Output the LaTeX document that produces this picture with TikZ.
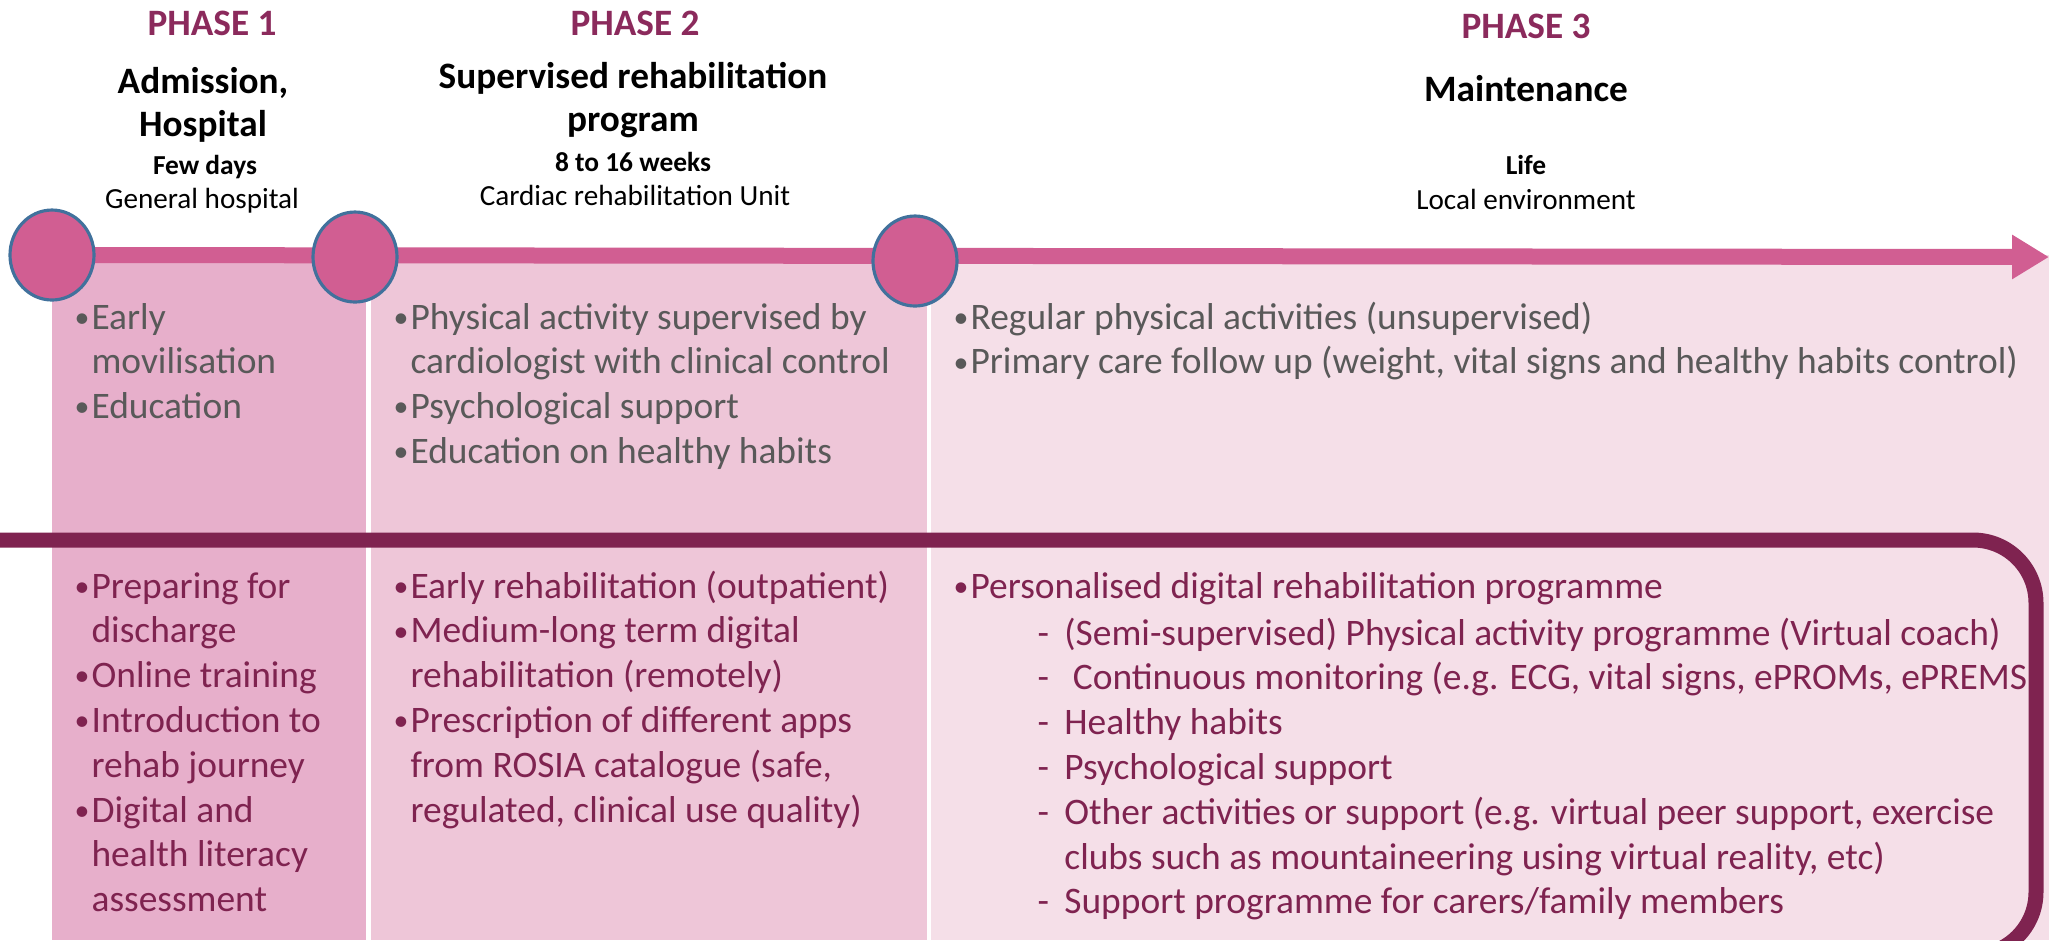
\documentclass[tikz,border=0pt]{standalone}
\usepackage{fontspec}
\setmainfont{Carlito}
\usetikzlibrary{arrows.meta,shapes.geometric,backgrounds}
\definecolor{plum}{HTML}{7F2350}
\definecolor{phasecol}{HTML}{8B2A5C}
\definecolor{rose}{HTML}{D15E92}
\definecolor{ringblue}{HTML}{41719C}
\definecolor{colA}{HTML}{E7AFCB}
\definecolor{colB}{HTML}{EEC6D8}
\definecolor{colC}{HTML}{F5DFE8}
\definecolor{greytxt}{HTML}{595959}
\newcommand{\blt}{\makebox[4.8pt][l]{\raisebox{0.5pt}{\fontsize{8.5}{8.5}\selectfont\textbullet}}}
\newcommand{\dsh}{\makebox[7.6pt][l]{-}}
\begin{document}
\begin{tikzpicture}[
    phase/.style={font=\bfseries\fontsize{10.6}{12}\selectfont, text=phasecol, inner sep=0pt, anchor=base},
    title/.style={font=\bfseries\fontsize{10.6}{12.2}\selectfont, align=center, inner sep=0pt, anchor=base},
    span/.style={font=\bfseries\fontsize{7.8}{9}\selectfont, inner sep=0pt, anchor=base},
    place/.style={font=\fontsize{8.3}{9.5}\selectfont, inner sep=0pt, anchor=base},
    dot/.style={ellipse, minimum width=0.84cm, minimum height=0.9cm, fill=rose, draw=ringblue, line width=0.9pt, inner sep=0pt},
    list/.style={font=\fontsize{10.65}{12.75}\selectfont, inner sep=0pt, anchor=base west},
  ]
  \useasboundingbox (0,0) rectangle (20.49,-9.40);
  \clip (0,0) rectangle (20.49,-9.40);

  % headings
  \node[phase] (phaseA) at (2.12,-0.35) {PHASE 1};
  \node[phase] (phaseB) at (6.35,-0.35) {PHASE 2};
  \node[phase] (phaseC) at (15.26,-0.38) {PHASE 3};
  \node[title] (titleA) at (2.03,-1.36) {Admission,\\Hospital};
  \node[title] (titleB) at (6.33,-1.31) {Supervised rehabilitation\\program};
  \node[title] (titleC) at (15.26,-1.01) {Maintenance};
  \node[span] (spanA) at (2.05,-1.74) {Few days};
  \node[span] (spanB) at (6.33,-1.71) {8 to 16 weeks};
  \node[span] (spanC) at (15.26,-1.74) {Life};
  \node[place] (placeA) at (2.02,-2.08) {General hospital};
  \node[place] (placeB) at (6.35,-2.05) {Cardiac rehabilitation Unit};
  \node[place] (placeC) at (15.26,-2.09) {Local environment};

  % timeline
  \node[dot] (dotA) at (0.52,-2.55) {};
  \node[dot] (dotB) at (3.55,-2.57) {};
  \node[dot] (dotC) at (9.15,-2.61) {};
  \coordinate (tip) at (20.49,-2.57);
  \begin{pgfonlayer}{background}
    % columns
    \fill[colA] (0.52,-2.55) rectangle (3.66,-9.40);
    \fill[colB] (3.71,-2.55) rectangle (9.27,-9.40);
    \fill[colC] (9.31,-2.55) rectangle (20.49,-9.40);
    \draw[rose, line width=0.16cm, -{Triangle[length=0.37cm,width=0.42cm]}] (dotA.center) -- (tip);
  \end{pgfonlayer}

  % digital frame
  \draw[plum, line width=0.15cm, rounded corners=0.63cm] (-0.2,-5.40) -- (20.36,-5.40) -- (20.36,-9.55) -- (18.5,-9.55);

  % top lists
  \node[list, text=greytxt] (topA) at (0.74,-3.29) {\begin{tabular}[t]{@{}l@{}l@{}}
    \blt & Early\\ & movilisation\\ \blt & Education\end{tabular}};
  \node[list, text=greytxt] (topB) at (3.93,-3.29) {\begin{tabular}[t]{@{}l@{}l@{}}
    \blt & Physical activity supervised by\\ & cardiologist with clinical control\\
    \blt & Psychological support\\ \blt & Education on healthy habits\end{tabular}};
  \node[list, text=greytxt] (topC) at (9.53,-3.29) {\begin{tabular}[t]{@{}l@{}l@{}}
    \blt & Regular physical activities (unsupervised)\\
    \blt & Primary care follow up (weight, vital signs and healthy habits control)\end{tabular}};

  % bottom lists
  \node[list, text=plum] (botA) at (0.74,-5.98) {\begin{tabular}[t]{@{}l@{}l@{}}
    \blt & Preparing for\\ & discharge\\ \blt & Online training\\ \blt & Introduction to\\ & rehab journey\\
    \blt & Digital and\\ & health literacy\\ & assessment\end{tabular}};
  \node[list, text=plum] (botB) at (3.93,-5.98) {\begin{tabular}[t]{@{}l@{}l@{}}
    \blt & Early rehabilitation (outpatient)\\ \blt & Medium-long term digital\\ & rehabilitation (remotely)\\
    \blt & Prescription of different apps\\ & from ROSIA catalogue (safe,\\ & regulated, clinical use quality)\end{tabular}};
  \node[list, text=plum] (botC) at (9.53,-5.98) {\begin{tabular}[t]{@{}l@{}l@{}}
    \blt & Personalised digital rehabilitation programme\end{tabular}};
  \node[list, text=plum] (subC) at (10.37,-6.45) {\begin{tabular}[t]{@{}l@{}l@{}}
    \dsh & (Semi-supervised) Physical activity programme (Virtual coach)\\
    \dsh & \ Continuous monitoring (e.g. ECG, vital signs, ePROMs, ePREMS\\
    \dsh & Healthy habits\\ \dsh & Psychological support\\
    \dsh & Other activities or support (e.g. virtual peer support, exercise\\
    & clubs such as mountaineering using virtual reality, etc)\\
    \dsh & Support programme for carers/family members\end{tabular}};
\end{tikzpicture}
\end{document}
